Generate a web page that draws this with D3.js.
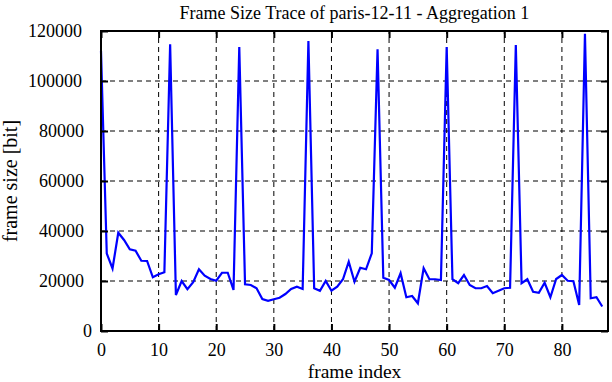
<!DOCTYPE html>
<html>
<head>
<meta charset="utf-8">
<script src="https://cdn.jsdelivr.net/npm/d3@7"></script>
<style>
  html, body { margin: 0; padding: 0; background: #fff; }
  svg { display: block; }
  text { font-family: "Liberation Serif", "Times New Roman", serif; fill: #000; }
</style>
</head>
<body>
<svg id="chart" width="612" height="382"></svg>
<script>
// ---- data ----
const title = "Frame Size Trace of paris-12-11 - Aggregation 1";
const xLabel = "frame index";
const yLabel = "frame size [bit]";
const frameIndex = d3.range(0, 88);
const frameSize = [
  112000, 31000, 25000, 39300, 36400, 32700, 32100, 28100, 28000, 21500,
  22700, 23500, 114700, 14400, 20000, 16700, 19500, 24700, 22100, 20800,
  20100, 23300, 23300, 16400, 113600, 18700, 18400, 17100, 12800, 12100,
  12700, 13300, 14800, 16800, 17700, 16800, 116000, 17100, 16100, 20000,
  16100, 17700, 20700, 27700, 19700, 25300, 24700, 31100, 112700, 21300,
  20400, 17300, 23100, 13500, 14000, 11100, 25100, 20700, 20700, 20400,
  113600, 20700, 19100, 22400, 18400, 17100, 17100, 18000, 15100, 16100,
  17100, 17300, 114400, 19100, 20700, 15700, 15300, 19300, 13500, 20800,
  22400, 20100, 19900, 10400, 118900, 13100, 13500, 9800
];
const xTicks = [0, 10, 20, 30, 40, 50, 60, 70, 80];
const yTicks = [0, 20000, 40000, 60000, 80000, 100000, 120000];

// ---- layout ----
const svg = d3.select("#chart");
const L = 101, R = 608, T = 31, B = 331;
const x = d3.scaleLinear().domain([0, 88]).range([L, R]);
const y = d3.scaleLinear().domain([0, 120000]).range([B, T]);

// grid
const grid = svg.append("g").attr("stroke", "#000").attr("stroke-width", 1)
  .attr("stroke-dasharray", "5,4").attr("fill", "none");
xTicks.filter(v => v > 0).forEach(v => {
  grid.append("line").attr("x1", x(v)).attr("x2", x(v)).attr("y1", B).attr("y2", T);
});
yTicks.filter(v => v > 0 && v < 120000).forEach(v => {
  grid.append("line").attr("x1", L).attr("x2", R).attr("y1", y(v)).attr("y2", y(v));
});

// data line
const line = d3.line().x((d, i) => x(frameIndex[i])).y(d => y(d));
svg.append("path").datum(frameSize)
  .attr("d", line)
  .attr("fill", "none")
  .attr("stroke", "#0000ff")
  .attr("stroke-width", 2.2)
  .attr("stroke-linejoin", "miter");

// axes with inward ticks (mirrored)
const tickLen = 7;
const fmt = d3.format("d");
const axB = svg.append("g").attr("transform", `translate(0,${B})`)
  .call(d3.axisBottom(x).tickValues(xTicks).tickSizeInner(-tickLen).tickSizeOuter(0).tickPadding(12).tickFormat(fmt));
const axT = svg.append("g").attr("transform", `translate(0,${T})`)
  .call(d3.axisTop(x).tickValues(xTicks).tickSizeInner(-tickLen).tickSizeOuter(0).tickFormat(""));
const axL = svg.append("g").attr("transform", `translate(${L},0)`)
  .call(d3.axisLeft(y).tickValues(yTicks).tickSizeInner(-tickLen).tickSizeOuter(0).tickFormat(fmt));
const axR = svg.append("g").attr("transform", `translate(${R},0)`)
  .call(d3.axisRight(y).tickValues(yTicks).tickSizeInner(-tickLen).tickSizeOuter(0).tickFormat(""));
[axB, axT, axL, axR].forEach(a => {
  a.select(".domain").remove();
  a.selectAll(".tick line").attr("stroke", "#000").attr("stroke-width", 2);
  a.selectAll(".tick text").attr("font-size", 18).attr("font-family", "Liberation Serif, serif").attr("fill", "#000");
});
// y tick labels: gnuplot-style justification (start = anchor - n * estimated char width)
axL.selectAll(".tick text")
  .attr("text-anchor", "start")
  .attr("x", d => (94 - 11 * fmt(d).length) - L);

// border
svg.append("rect").attr("x", L).attr("y", T).attr("width", R - L).attr("height", B - T)
  .attr("fill", "none").attr("stroke", "#000").attr("stroke-width", 2);

// labels
svg.append("text").attr("x", (L + R) / 2).attr("y", 19)
  .attr("text-anchor", "middle").attr("font-size", 18).text(title);
svg.append("text").attr("x", (L + R) / 2).attr("y", 378)
  .attr("text-anchor", "middle").attr("font-size", 19.5).text(xLabel);
svg.append("text").attr("transform", `translate(17,${(T + B) / 2}) rotate(-90)`)
  .attr("text-anchor", "middle").attr("font-size", 20).text(yLabel);
</script>
</body>
</html>
